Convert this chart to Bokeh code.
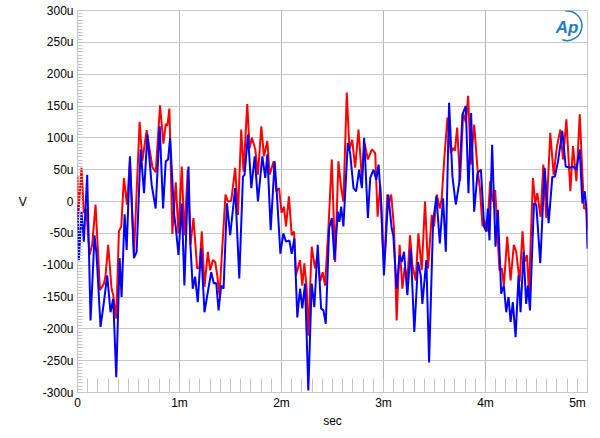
from bokeh.plotting import figure
from bokeh.models import Range1d, FixedTicker, Label
from bokeh.embed import file_html
from bokeh.resources import INLINE

# time in ms, values in microvolts
blue_t = [0, 0.013, 0.039, 0.062, 0.095, 0.128, 0.167, 0.187, 0.226, 0.259, 0.291, 0.324, 0.35, 0.38,
          0.413, 0.432, 0.462, 0.482, 0.514, 0.553, 0.58, 0.619, 0.652, 0.685, 0.727, 0.766, 0.806, 0.839,
          0.865, 0.888, 0.908, 0.947, 0.963, 0.99, 1.022, 1.048, 1.088, 1.107, 1.13, 1.153, 1.179, 1.212,
          1.245, 1.278, 1.311, 1.337, 1.36, 1.383, 1.409, 1.432, 1.465, 1.497, 1.546, 1.586, 1.622, 1.638,
          1.671, 1.704, 1.737, 1.769, 1.812, 1.841, 1.861, 1.894, 1.933, 1.956, 1.989, 2.018, 2.044, 2.077,
          2.1, 2.126, 2.155, 2.182, 2.204, 2.231, 2.263, 2.296, 2.322, 2.355, 2.388, 2.411, 2.434, 2.467,
          2.493, 2.519, 2.552, 2.568, 2.585, 2.607, 2.65, 2.673, 2.706, 2.732, 2.761, 2.788, 2.81, 2.847,
          2.87, 2.902, 2.929, 2.952, 2.978, 3.004, 3.047, 3.08, 3.096, 3.129, 3.158, 3.178, 3.201, 3.234,
          3.267, 3.302, 3.339, 3.365, 3.381, 3.42, 3.447, 3.486, 3.519, 3.552, 3.584, 3.611, 3.643, 3.676,
          3.709, 3.742, 3.774, 3.807, 3.833, 3.859, 3.889, 3.922, 3.955, 3.987, 4.006, 4.023, 4.039, 4.065,
          4.098, 4.121, 4.154, 4.18, 4.203, 4.226, 4.246, 4.268, 4.295, 4.324, 4.344, 4.373, 4.399, 4.416,
          4.436, 4.475, 4.498, 4.537, 4.58, 4.619, 4.655, 4.68, 4.711, 4.753, 4.786, 4.825, 4.858, 4.891,
          4.924, 4.95, 4.973, 4.989, 5.0]
blue_v = [-5, -92, -16, -63, 42, -187, -53, -84, -197, -158, -116, -174, -153, -276,
          -89, -150, -20, -76, 71, -89, -79, 82, 13, 105, 26, -11, 118, -11,
          63, 66, 100, -20, -40, -84, -3, -132, 55, -68, -137, -118, -158, -74,
          -174, -142, -111, -129, -128, -171, -132, -137, -3, -53, 21, -121, 39, 42,
          105, 21, 71, 0, 71, 37, 74, -45, 63, 8, -82, -50, -63, -61,
          -82, -58, -182, -137, -168, -129, -297, -129, -166, -68, -168, -171, -192, -42,
          -26, -92, -16, -32, -8, -39, 92, 76, 21, 16, 50, 21, 100, -26,
          37, 50, 34, 58, -5, -116, 11, -42, -53, -137, -84, -95, -79, -147,
          -74, -205, -95, -116, -161, -92, -253, -32, 8, -66, 5, -79, 155, 39,
          -5, 29, 137, 150, 13, 139, -16, 45, 50, -40, -47, -11, -61, 89,
          -71, -13, -145, -132, -174, -150, -189, -158, -213, -116, -174, -79, -161, -132,
          -171, -3, -5, -97, 53, -34, 39, 39, 63, 111, 55, 53, 55, 50,
          82, -3, 16, -11, -74]

red_t = [0, 0.007, 0.039, 0.062, 0.085, 0.118, 0.144, 0.177, 0.22, 0.259, 0.275, 0.301, 0.334, 0.35,
         0.38, 0.406, 0.429, 0.455, 0.485, 0.514, 0.554, 0.609, 0.636, 0.678, 0.734, 0.767, 0.809, 0.842,
         0.865, 0.881, 0.901, 0.93, 0.963, 0.99, 1.022, 1.048, 1.081, 1.107, 1.137, 1.173, 1.195, 1.219,
         1.245, 1.278, 1.301, 1.327, 1.35, 1.37, 1.392, 1.419, 1.451, 1.474, 1.507, 1.546, 1.573, 1.605,
         1.628, 1.664, 1.687, 1.71, 1.743, 1.769, 1.802, 1.828, 1.861, 1.884, 1.923, 1.949, 1.976, 2.001,
         2.024, 2.044, 2.073, 2.1, 2.123, 2.142, 2.182, 2.204, 2.224, 2.247, 2.263, 2.296, 2.329, 2.352,
         2.378, 2.404, 2.427, 2.46, 2.493, 2.526, 2.558, 2.585, 2.607, 2.64, 2.666, 2.693, 2.722, 2.755,
         2.788, 2.814, 2.847, 2.886, 2.919, 2.942, 2.968, 2.995, 3.014, 3.037, 3.053, 3.076, 3.103, 3.129,
         3.158, 3.185, 3.208, 3.234, 3.26, 3.283, 3.316, 3.342, 3.375, 3.407, 3.437, 3.473, 3.496, 3.522,
         3.552, 3.571, 3.594, 3.627, 3.66, 3.683, 3.7, 3.722, 3.751, 3.781, 3.807, 3.83, 3.856, 3.889,
         3.922, 3.945, 3.971, 3.987, 4.016, 4.046, 4.072, 4.095, 4.137, 4.16, 4.18, 4.213, 4.246, 4.278,
         4.301, 4.334, 4.363, 4.383, 4.406, 4.426, 4.465, 4.488, 4.508, 4.54, 4.567, 4.596, 4.635, 4.668,
         4.701, 4.734, 4.76, 4.793, 4.832, 4.858, 4.891, 4.924, 4.947, 4.966, 4.99, 5.0]
red_v = [41, -25, 53, -18, -11, -84, -68, -5, -139, -129, -116, -68, -137, -147,
         -184, -47, -39, 37, -5, 64, -82, 125, 64, 112, 54, 46, 151, 91,
         122, 119, 146, -51, 30, -50, 55, -53, 50, -68, -26, -105, -105, -47,
         -134, -79, -108, -92, -95, -116, -147, -74, 11, 0, 1, 53, -21, 113,
         47, 153, 84, 100, 82, 42, 118, 71, 95, 42, 63, 16, 21, -18,
         -8, -39, 8, -53, -47, -116, -92, -132, -97, -137, -211, -71, -105, -84,
         -126, -111, -132, -42, 66, -95, 63, 21, 0, 171, 82, 97, 53, 113,
         37, 92, 66, 82, 76, -24, 26, -75, -82, 11, -3, 11, -42, -187,
         -68, -137, -103, -124, -53, -100, -124, -50, -108, 0, -105, -21, -39, 11,
         -11, 5, 63, 132, 76, 84, 80, 116, 32, 139, 124, 166, 58, 121,
         50, 21, -39, -29, -47, 32, 0, 18, -108, -105, -132, -55, -124, -68,
         -79, -126, -47, -95, -84, -142, 37, -3, 13, -24, 58, -26, 108, 42,
         87, 113, 66, 129, 16, 87, 32, 137, 53, -11, -11, -43]

x_major = [0, 1, 2, 3, 4, 5]
x_labels = ["0", "1m", "2m", "3m", "4m", "5m" + "\u00a0" * 2]
y_major = [-300, -250, -200, -150, -100, -50, 0, 50, 100, 150, 200, 250, 300]
y_labels = ["-300u", "-250u", "-200u", "-150u", "-100u", "-50u", "0",
            "50u", "100u", "150u", "200u", "250u", "300u"]

FONT = "Liberation Sans"

p = figure(width=592, height=434, output_backend="svg", toolbar_location=None, title=None,
           x_range=Range1d(0, 5), y_range=Range1d(-300, 300))
p.min_border_left = 77
p.min_border_right = 5
p.min_border_top = 10
p.min_border_bottom = 42
p.background_fill_color = "white"
p.border_fill_color = "white"
p.outline_line_color = "#c8c8c8"
p.outline_line_width = 1

p.xaxis.ticker = FixedTicker(ticks=x_major, minor_ticks=[i / 10 for i in range(0, 51)])
p.yaxis.ticker = FixedTicker(ticks=y_major, minor_ticks=list(range(-300, 301, 5)))
p.xaxis.major_label_overrides = dict(zip(x_major, x_labels))
p.yaxis.major_label_overrides = dict(zip(y_major, y_labels))

for ax in (p.xaxis, p.yaxis):
    ax.axis_line_color = None
    ax.major_tick_in = 0
    ax.major_tick_out = 0
    ax.minor_tick_out = 0
    ax.minor_tick_line_color = "#c4c4c4"
    ax.major_label_text_font = FONT
    ax.major_label_text_font_size = "12px"
    ax.major_label_text_color = "black"
    ax.axis_label_text_font = FONT
    ax.axis_label_text_font_size = "12px"
    ax.axis_label_text_font_style = "normal"
    ax.axis_label_text_color = "black"
p.xaxis.minor_tick_in = 14
p.yaxis.minor_tick_in = 5
p.xaxis.major_label_standoff = 3
p.yaxis.major_label_standoff = 4

p.xaxis.axis_label = "sec"
p.xaxis.axis_label_standoff = 1
p.yaxis.axis_label = "V"
p.yaxis.axis_label_standoff = 13
try:
    p.yaxis.axis_label_orientation = "horizontal"
except Exception:
    pass

p.xgrid.grid_line_color = "#b4b4b4"
p.ygrid.grid_line_color = "#c8c8c8"
p.xgrid.grid_line_width = 1
p.ygrid.grid_line_width = 1

p.line(red_t, red_v, line_color="#ff0000", line_width=2)
p.line(blue_t, blue_v, line_color="#0000ff", line_width=2)

p.add_layout(Label(x=4.8, y=274, text="Ap", text_align="center", text_baseline="middle",
                   text_font=FONT, text_font_size="17px", text_font_style="bold italic",
                   text_color="#1e7cc0"))
p.arc(x=[4.8], y=[276], radius=0.145, start_angle=-1.9, end_angle=1.7,
      line_color="#1e7cc0", line_width=1.5)

open("out.html", "w").write(file_html(p, INLINE))
